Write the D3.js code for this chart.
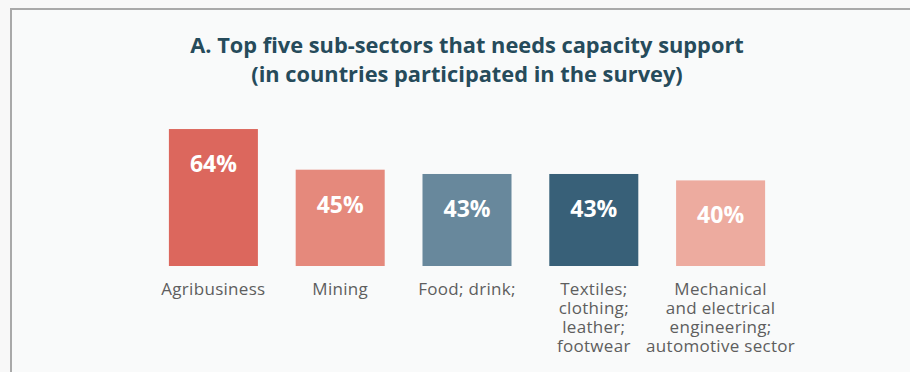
<!DOCTYPE html>
<html>
<head>
<meta charset="utf-8">
<script src="https://cdn.jsdelivr.net/npm/d3@7/dist/d3.min.js"></script>
<style>
  html, body { margin: 0; padding: 0; background: #f8f8f8; }
  svg { display: block; }
</style>
</head>
<body>
<svg id="chart" width="910" height="372"></svg>
<script>
// Sub-sectors and the share of surveyed countries asking for capacity support
const categories = [
  "Agribusiness",
  "Mining",
  "Food; drink;",
  "Textiles; clothing; leather; footwear",
  "Mechanical and electrical engineering; automotive sector"
];
const labelLines = [
  ["Agribusiness"],
  ["Mining"],
  ["Food; drink;"],
  ["Textiles;", "clothing;", "leather;", "footwear"],
  ["Mechanical", "and electrical", "engineering;", "automotive sector"]
];
const values = [64, 45, 43, 43, 40];
const barColors = ["#dc675d", "#e5897c", "#68889c", "#386078", "#edab9f"];
const titleLines = [
  "A. Top five sub-sectors that needs capacity support",
  "(in countries participated in the survey)"
];

const svg = d3.select("#chart");
const W = 910, H = 372;

// panel with a grey frame on its left and top edges
svg.append("rect")
  .attr("x", 11).attr("y", 9)
  .attr("width", W + 20).attr("height", H + 20)
  .attr("fill", "#f9fafa")
  .attr("stroke", "#a9a9a9")
  .attr("stroke-width", 2);

const font = "'Open Sans', Lato, sans-serif";

// title
svg.append("g")
  .selectAll("text")
  .data(titleLines)
  .join("text")
  .attr("x", 467)
  .attr("y", (d, i) => 53 + i * 29)
  .attr("text-anchor", "middle")
  .attr("font-family", font)
  .attr("font-weight", 700)
  .attr("font-size", 21.8)
  .attr("fill", "#264b5b")
  .text(d => d);

// scales
const x = d3.scaleBand()
  .domain(categories)
  .range([150, 784])
  .paddingInner(0.298)
  .paddingOuter(0.149);

const baseline = 266;
const y = d3.scaleLinear()
  .domain([0, 100])
  .range([baseline, baseline - 214]);

const data = categories.map((c, i) => ({ c, v: values[i], color: barColors[i], lines: labelLines[i] }));

// bars
svg.append("g")
  .selectAll("rect")
  .data(data)
  .join("rect")
  .attr("x", d => x(d.c))
  .attr("y", d => y(d.v))
  .attr("width", x.bandwidth())
  .attr("height", d => y(0) - y(d.v))
  .attr("fill", d => d.color);

// value labels inside bars
svg.append("g")
  .selectAll("text")
  .data(data)
  .join("text")
  .attr("x", d => x(d.c) + x.bandwidth() / 2)
  .attr("y", d => y(d.v) + 43)
  .attr("text-anchor", "middle")
  .attr("font-family", font)
  .attr("font-weight", 700)
  .attr("font-size", 23)
  .attr("fill", "#ffffff")
  .text(d => d.v + "%");

// category labels below bars, one text per line
svg.append("g")
  .selectAll("text")
  .data(data.flatMap(d => d.lines.map((t, i) => ({ t, i, cx: x(d.c) + x.bandwidth() / 2 }))))
  .join("text")
  .attr("x", d => d.cx)
  .attr("y", d => 295 + d.i * 19)
  .attr("text-anchor", "middle")
  .attr("font-family", font)
  .attr("font-size", 17)
  .attr("letter-spacing", 0.3)
  .attr("fill", "#5e5e5e")
  .text(d => d.t);
</script>
</body>
</html>
